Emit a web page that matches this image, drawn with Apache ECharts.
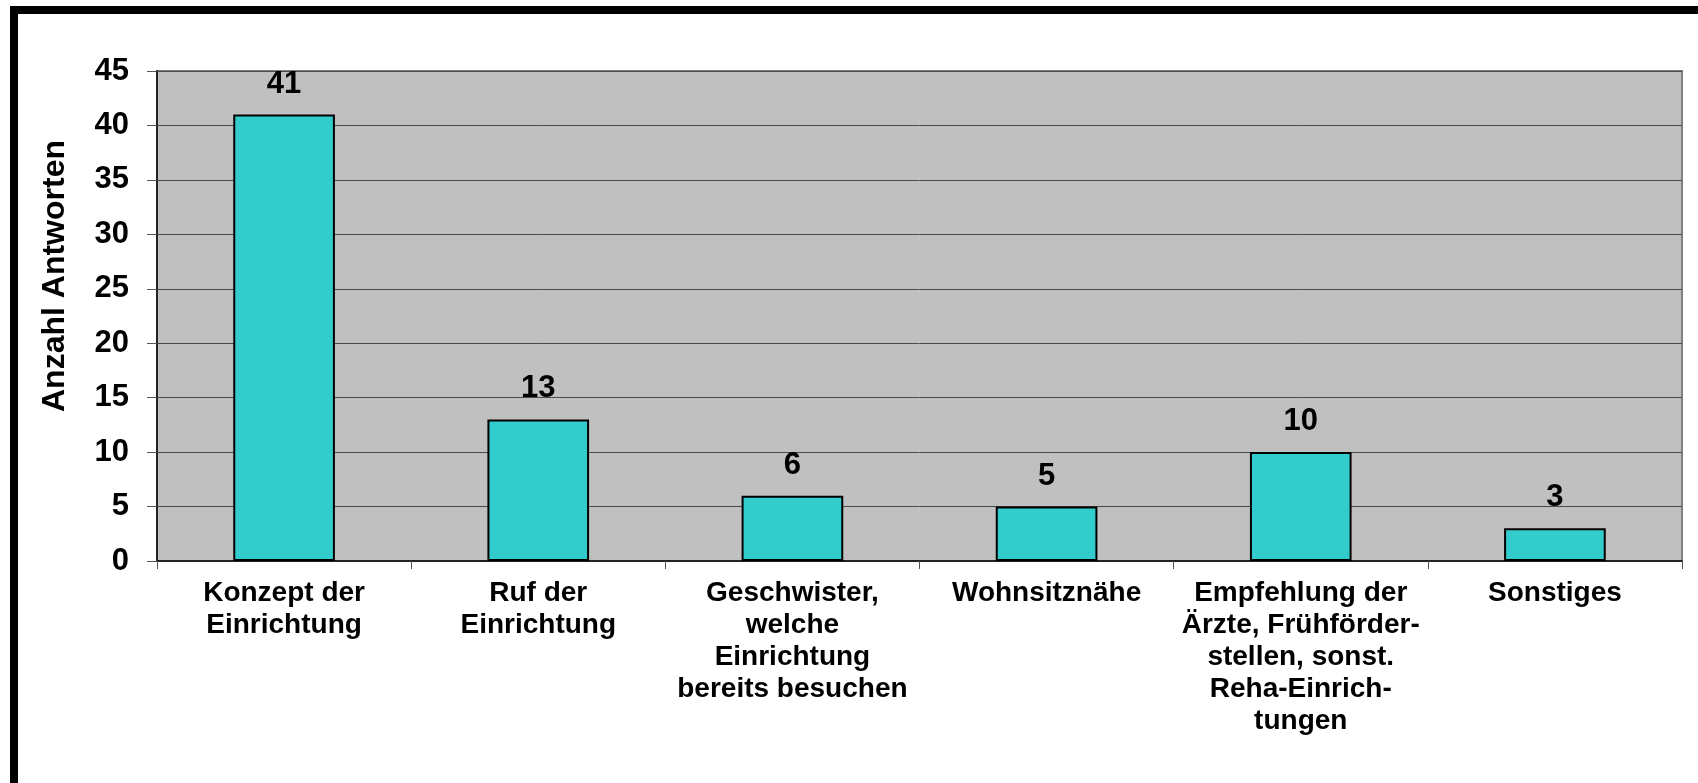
<!DOCTYPE html>
<html>
<head>
<meta charset="utf-8">
<script src="https://cdn.jsdelivr.net/npm/echarts@6/dist/echarts.min.js"></script>
<style>
    html, body { margin: 0; padding: 0; background: #fff; }
    #chart { width: 1698px; height: 783px; }
</style>
</head>
<body>
<div id="chart"></div>
<script>
// categories as wrapped in the original chart
const categories = [
    'Konzept der\nEinrichtung',
    'Ruf der\nEinrichtung',
    'Geschwister,\nwelche\nEinrichtung\nbereits besuchen',
    'Wohnsitznähe',
    'Empfehlung der\nÄrzte, Frühförder-\nstellen, sonst.\nReha-Einrich-\ntungen',
    'Sonstiges'
];
const antworten = [41, 13, 6, 5, 10, 3];
const yAxisTitle = 'Anzahl Antworten';
const yMin = 0, yMax = 45, yStep = 5;

const font = 'Arial, "Liberation Sans", sans-serif';
const chart = echarts.init(document.getElementById('chart'));

chart.setOption({
    animation: false,
    backgroundColor: '#fff',
    grid: {
        left: 157, top: 71, right: 16, bottom: 222,
        show: true,
        backgroundColor: '#c0c0c0',
        borderColor: '#808080',
        borderWidth: 2
    },
    graphic: [
        {
            // frame cut off at the right and bottom
            type: 'rect',
            shape: { x: 14, y: 10, width: 1700, height: 800 },
            style: { fill: 'none', stroke: '#000', lineWidth: 8 },
            z: 10
        },
        {
            type: 'text',
            x: 55, y: 276,
            rotation: Math.PI / 2,
            style: {
                text: yAxisTitle,
                font: 'bold 32px ' + font,
                fill: '#000',
                align: 'center',
                verticalAlign: 'middle'
            }
        }
    ],
    xAxis: {
        type: 'category',
        data: categories,
        axisLine: { lineStyle: { color: '#222', width: 2 } },
        axisTick: { show: true, length: 8, lineStyle: { color: '#555' } },
        axisLabel: {
            interval: 0,
            margin: 16,
            color: '#000',
            fontFamily: font,
            fontWeight: 'bold',
            fontSize: 28,
            lineHeight: 32,
            align: 'center'
        }
    },
    yAxis: {
        type: 'value',
        min: yMin, max: yMax, interval: yStep,
        axisLine: { show: true, lineStyle: { color: '#222', width: 2 } },
        axisTick: { show: true, length: 10, lineStyle: { color: '#555' } },
        splitLine: { lineStyle: { color: '#4a4a4a', width: 1 } },
        axisLabel: {
            margin: 28,
            color: '#000',
            fontFamily: font,
            fontWeight: 'bold',
            fontSize: 31
        }
    },
    series: [{
        type: 'bar',
        data: antworten,
        barWidth: '40%',
        itemStyle: { color: '#33cccc', borderColor: '#000', borderWidth: 2 },
        label: {
            show: true,
            position: 'top',
            distance: 15,
            color: '#000',
            fontFamily: font,
            fontWeight: 'bold',
            fontSize: 31
        }
    }]
});
</script>
</body>
</html>
